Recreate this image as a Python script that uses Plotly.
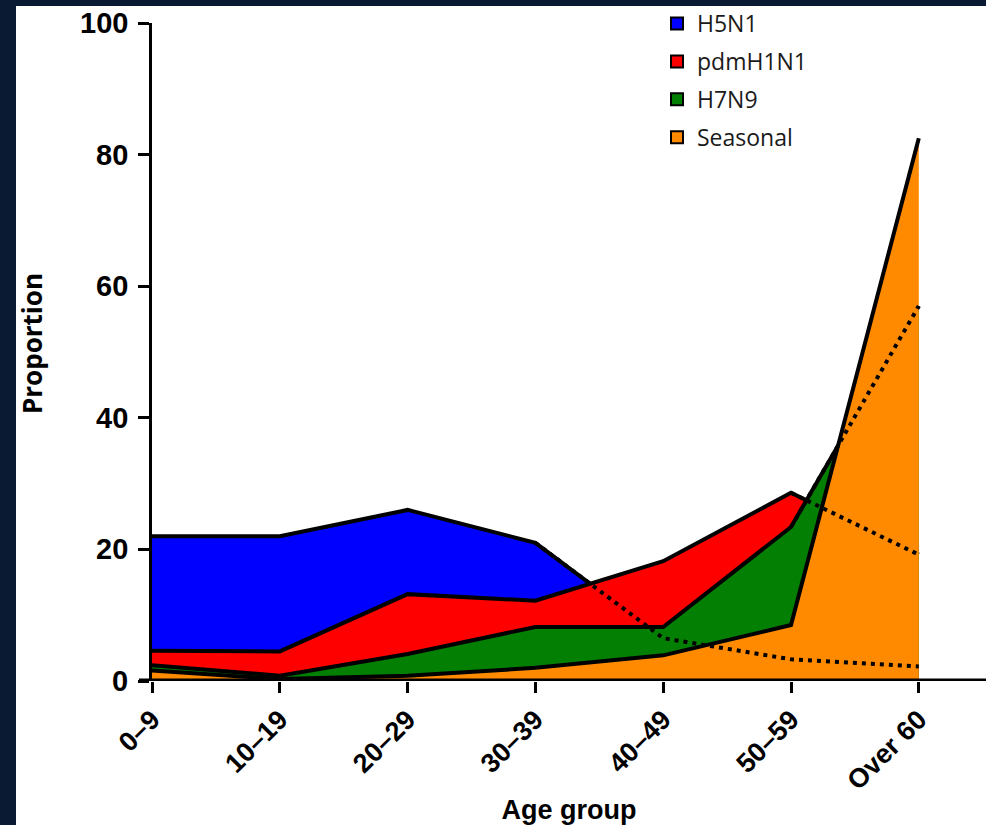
import plotly.graph_objects as go

age_groups = ["0–9", "10–19", "20–29", "30–39", "40–49", "50–59", "Over 60"]
h5n1 = [22, 22, 26, 21, 6.5, 3.3, 2.2]
pdmh1n1 = [4.6, 4.5, 13.2, 12.2, 18.2, 28.6, 19.2]
h7n9 = [2.4, 0.8, 4.1, 8.2, 8.2, 23.4, 57]
seasonal = [1.6, 0.3, 0.8, 2.0, 3.9, 8.5, 82.5]

series_names = ["H5N1", "pdmH1N1", "H7N9", "Seasonal"]
series_values = [h5n1, pdmh1n1, h7n9, seasonal]
series_colors = ["#0000ff", "#ff0000", "#037f03", "#ff8a00"]
hidden_from = [3, 5, 5, None]  # index where the dotted continuation starts

y_ticks = [0, 20, 40, 60, 80, 100]
y_tick_labels = ["0", "20", "40", "60", "80", "100"]

W, H = 986, 825
L, R, T, B = 152, 0, 23, 142
pw, ph = W - L - R, H - T - B
x_max = (W - L) / 127.8

xi = list(range(len(age_groups)))

fig = go.Figure()

# filled areas, back to front
for name, vals, col in zip(series_names, series_values, series_colors):
    fig.add_trace(go.Scatter(
        x=xi, y=vals, mode="lines", fill="tozeroy", fillcolor=col,
        line=dict(color="black", width=4), showlegend=False,
        hoverinfo="skip", cliponaxis=False))

# dotted continuations of hidden parts
for name, vals, start in zip(series_names, series_values, hidden_from):
    if start is None:
        continue
    fig.add_trace(go.Scatter(
        x=xi[start:], y=vals[start:], mode="lines",
        line=dict(color="black", width=4, dash="4px,5px"),
        showlegend=False, hoverinfo="skip"))

# legend entries
for i, (name, col) in enumerate(zip(series_names, series_colors)):
    fig.add_trace(go.Scatter(
        x=[None], y=[None], mode="markers", name=name,
        legendgroup=name,
        marker=dict(symbol="square", size=21, color=col,
                    line=dict(color="black", width=2))))

def px_to_paper_x(px):
    return (px - L) / pw

def px_to_paper_y(py):
    return (H - B - py) / ph

shapes = [
    # white panel
    dict(type="rect", xref="paper", yref="paper",
         x0=px_to_paper_x(16), x1=px_to_paper_x(W + 5),
         y0=px_to_paper_y(H + 5), y1=px_to_paper_y(6),
         fillcolor="white", line=dict(width=0), layer="below"),
    # x axis line extending left of the y axis
    dict(type="line", xref="paper", yref="y",
         x0=px_to_paper_x(139), x1=1, y0=0, y1=0,
         line=dict(color="black", width=5), layer="above"),
]

annotations = [
    dict(text=lab, x=px_to_paper_x(130), xref="paper", y=v, yref="y",
         xanchor="right", yanchor="middle", showarrow=False,
         font=dict(family="Liberation Sans, Arial", size=29, color="black",
                   weight="bold"))
    for v, lab in zip(y_ticks, y_tick_labels)
]
annotations.append(dict(
    text="Proportion", x=px_to_paper_x(32), xref="paper",
    y=px_to_paper_y(345), yref="paper", textangle=-90,
    xanchor="center", yanchor="middle", showarrow=False,
    font=dict(family="Open Sans", size=26, color="black", weight="bold")))

fig.update_layout(
    width=W, height=H,
    margin=dict(l=L, r=R, t=T, b=B),
    paper_bgcolor="#0b1a33",
    plot_bgcolor="rgba(0,0,0,0)",
    shapes=shapes,
    annotations=annotations,
    showlegend=True,
    legend=dict(
        x=px_to_paper_x(657), y=px_to_paper_y(2), xanchor="left", yanchor="top",
        bgcolor="rgba(0,0,0,0)",
        font=dict(family="Open Sans", size=23, color="#1a1a1a"),
        tracegroupgap=5, itemsizing="constant"),
    xaxis=dict(
        range=[0, x_max], tickmode="array", tickvals=xi, ticktext=age_groups,
        tickangle=-45, ticks="outside", ticklen=11, tickwidth=3,
        tickcolor="black", showline=False, showgrid=False, zeroline=False,
        tickfont=dict(family="Liberation Sans, Arial", size=27, color="black",
                      weight="bold"),
        title=dict(text="Age group", standoff=10,
                   font=dict(family="Liberation Sans, Arial", size=27,
                             color="black", weight="bold"))),
    yaxis=dict(
        range=[0, 100], tickmode="array", tickvals=y_ticks,
        ticks="outside", ticklen=11, tickwidth=3, tickcolor="black",
        showline=True, linecolor="black", linewidth=3,
        showgrid=False, zeroline=False, showticklabels=False),
)

fig.write_html(
    "out.html",
    config={"displayModeBar": False},
    post_script="document.body.style.margin='0';"
                "document.body.style.background='#0b1a33';"
                "document.body.style.overflow='hidden';")
